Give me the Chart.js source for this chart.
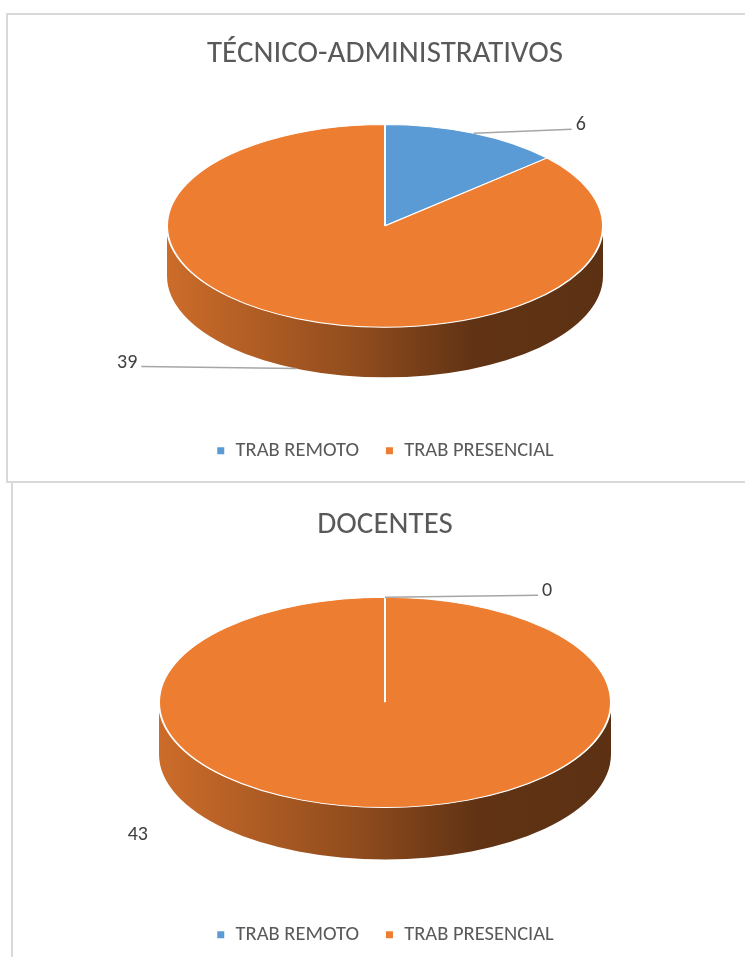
<!DOCTYPE html>
<html>
<head>
<meta charset="utf-8">
<script src="https://cdn.jsdelivr.net/npm/chart.js@4.4.0/dist/chart.umd.min.js"></script>
<style>
    html, body { margin: 0; padding: 0; background: #fff; overflow: hidden; }
    body { width: 745px; height: 957px; position: relative; }
    .panel { position: absolute; box-sizing: border-box; border: 2px solid #d9d9d9; }
    #panel-tecnicos { left: 6px; top: 13px; width: 770px; height: 470px; }
    #panel-docentes { left: 11px; top: 481px; width: 770px; height: 500px; }
    .panel canvas { position: absolute; left: 0; top: 0; }
</style>
</head>
<body>
<div class="panel" id="panel-tecnicos"><canvas id="chart-tecnicos" width="739" height="466"></canvas></div>
<div class="panel" id="panel-docentes"><canvas id="chart-docentes" width="734" height="474"></canvas></div>
<script>
// --- DATA ---
const categories = ['TRAB REMOTO', 'TRAB PRESENCIAL'];
const tecnicosValues = [6, 39];
const docentesValues = [0, 43];
const sliceColors = ['#5B9BD5', '#ED7D31'];

const FONT = 'Carlito, Calibri, Roboto, sans-serif';

// --- HELPERS ---
const shade = (hex, f) => {
    const n = parseInt(hex.slice(1), 16);
    const r = Math.round(((n >> 16) & 255) * f);
    const g = Math.round(((n >> 8) & 255) * f);
    const b = Math.round((n & 255) * f);
    return `rgb(${r},${g},${b})`;
};

// 3D look: squash the pie vertically and draw a shaded wall under the front half
const pie3d = {
    id: 'pie3d',
    beforeDatasetsDraw(chart, args, opts) {
        const meta = chart.getDatasetMeta(0);
        const ctx = chart.ctx;
        const first = meta.data[0];
        const { x: cx, y: cy, outerRadius: r } = first.getProps(['x', 'y', 'outerRadius'], true);
        const wall = r * opts.depth / opts.tilt;

        ctx.save();
        ctx.translate(cx, cy);
        ctx.scale(1, opts.tilt);
        ctx.translate(-cx, -cy);

        meta.data.forEach((arc, i) => {
            const { startAngle, endAngle } = arc.getProps(['startAngle', 'endAngle'], true);
            const color = chart.data.datasets[0].backgroundColor[i];
            for (let k = -1; k <= 1; k++) {
                const a0 = Math.max(startAngle, 2 * Math.PI * k);
                const a1 = Math.min(endAngle, 2 * Math.PI * k + Math.PI);
                if (a1 <= a0) continue;
                const grad = ctx.createLinearGradient(cx - r, 0, cx + r, 0);
                grad.addColorStop(0, shade(color, 0.86));
                grad.addColorStop(0.45, shade(color, 0.6));
                grad.addColorStop(0.7, shade(color, 0.41));
                grad.addColorStop(1, shade(color, 0.39));
                ctx.beginPath();
                ctx.arc(cx, cy, r, a0, a1);
                ctx.arc(cx, cy + wall, r, a1, a0, true);
                ctx.closePath();
                ctx.fillStyle = grad;
                ctx.fill();
            }
        });
    },
    afterDatasetsDraw(chart, args, opts) {
        const ctx = chart.ctx;
        ctx.restore();

        // value labels with leader lines
        const meta = chart.getDatasetMeta(0);
        const values = chart.data.datasets[0].data;
        meta.data.forEach((arc, i) => {
            const { x: cx, y: cy, outerRadius: r, startAngle, endAngle } =
                arc.getProps(['x', 'y', 'outerRadius', 'startAngle', 'endAngle'], true);
            const mid = (startAngle + endAngle) / 2;
            const ax = cx + r * Math.cos(mid);
            let ay = cy + r * opts.tilt * Math.sin(mid);
            if (Math.sin(mid) > 0) ay += r * opts.depth;
            const place = opts.labels[i];
            const ex = ax + place.dx;
            const ey = ay + place.dy;

            if (place.line) {
                ctx.save();
                ctx.strokeStyle = '#a6a6a6';
                ctx.lineWidth = 1.5;
                ctx.beginPath();
                ctx.moveTo(ax, ay);
                ctx.lineTo(ex, ey);
                ctx.stroke();
                ctx.restore();
            }
            ctx.save();
            ctx.font = `20px ${FONT}`;
            ctx.fillStyle = '#404040';
            ctx.textBaseline = 'alphabetic';
            ctx.textAlign = place.dx < 0 ? 'right' : 'left';
            ctx.fillText(String(values[i]), ex + (place.dx < 0 ? -4 : 4), ey + 1);
            ctx.restore();
        });
    }
};

const buildChart = (canvasId, title, values, layout) => new Chart(document.getElementById(canvasId), {
    type: 'pie',
    data: {
        labels: categories,
        datasets: [{
            data: values,
            backgroundColor: sliceColors,
            borderColor: '#ffffff',
            borderWidth: 2,
            radius: layout.radius,
            clip: false
        }]
    },
    options: {
        responsive: false,
        animation: false,
        layout: { padding: layout.padding },
        plugins: {
            title: {
                display: true,
                text: title,
                color: '#595959',
                font: { family: FONT, size: 31, weight: 'normal', lineHeight: 1.2 },
                // negative bottom padding lets the squashed pie sit closer to the title
                padding: layout.titlePadding
            },
            legend: {
                position: 'bottom',
                labels: {
                    color: '#595959',
                    font: { family: FONT, size: 20.5 },
                    boxWidth: 9,
                    boxHeight: 9,
                    padding: 26
                }
            },
            tooltip: { enabled: false },
            pie3d: { tilt: 0.465, depth: 0.23, labels: layout.labels }
        }
    },
    plugins: [pie3d]
});

buildChart('chart-tecnicos', 'TÉCNICO-ADMINISTRATIVOS', tecnicosValues, {
    radius: 218,
    padding: { left: 15, right: 0, top: 0, bottom: 10 },
    titlePadding: { top: 21, bottom: -36 },
    labels: [
        { dx: 98, dy: -4, line: true },
        { dx: -155, dy: -2, line: true }
    ]
});

buildChart('chart-docentes', 'DOCENTES', docentesValues, {
    radius: 226,
    padding: { left: 10, right: 0, top: 0, bottom: 2 },
    titlePadding: { top: 24, bottom: -38 },
    labels: [
        { dx: 153, dy: -2, line: true },
        { dx: -233, dy: -20, line: false }
    ]
});
</script>
</body>
</html>
